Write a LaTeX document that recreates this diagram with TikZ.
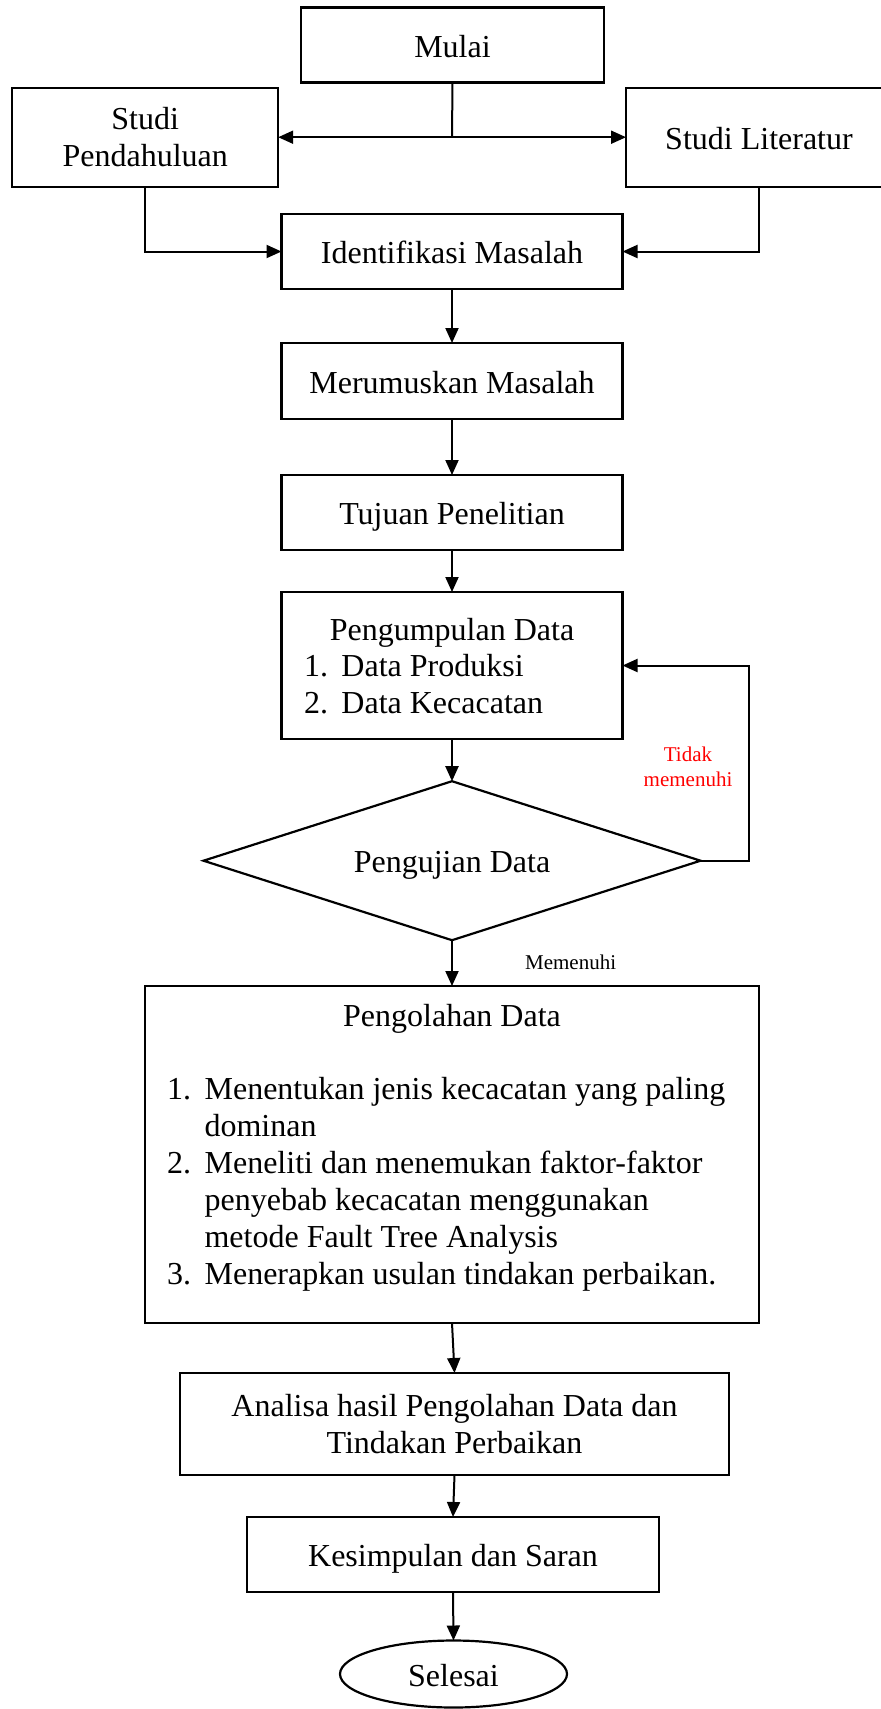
\documentclass[tikz,border=0pt]{standalone}
\usepackage{fontspec}
\setmainfont{Liberation Serif}
\usetikzlibrary{arrows.meta,shapes.geometric}
\begin{document}
\begin{tikzpicture}[x=1pt,y=1pt,
  font=\fontsize{32}{37}\selectfont,
  box/.style={draw, line width=2.2pt, rectangle, inner sep=0pt, outer sep=0pt, align=center},
  oneline/.style={text height=30pt, text depth=6pt},
  txt/.style={inner sep=0pt, outer sep=0pt},
  link/.style={line width=2pt, -{Triangle[length=15pt,width=13pt]}},
  plain/.style={line width=2pt},
  note/.style={inner sep=0pt, font=\fontsize{21}{25}\selectfont, align=center}
]
\useasboundingbox (0,0) rectangle (881,-1709);

% upper part
\node[box,oneline,minimum width=303pt,minimum height=75pt] (mulai) at (452.5,-45) {Mulai};
\node[box,minimum width=266pt,minimum height=99pt] (pend) at (145.2,-137.2) {Studi\\Pendahuluan};
\node[box,oneline,minimum width=266pt,minimum height=99pt] (lit) at (759,-137.2) {Studi Literatur};
\node[box,oneline,minimum width=341pt,minimum height=75pt] (ident) at (452,-251.5) {Identifikasi Masalah};
\node[box,oneline,minimum width=341pt,minimum height=76pt] (rumus) at (452,-381) {Merumuskan Masalah};
\node[box,oneline,minimum width=341pt,minimum height=75pt] (tujuan) at (452,-512.5) {Tujuan Penelitian};

% data collection
\node[box,minimum width=341pt,minimum height=147pt] (kumpul) at (452,-665.5) {};
\node[txt,anchor=base] (kumpulT) at (452,-640) {Pengumpulan Data};
\node[txt,anchor=base west] (kumpulL) at (304,-676)
  {\begin{tabular}[t]{@{}l@{\hspace{13.5pt}}l@{}}1. & Data Produksi\\2. & Data Kecacatan\end{tabular}};

% decision
\node[draw, diamond, aspect=3.13, line width=2.2pt, inner sep=0pt, outer sep=0pt,
      minimum width=497pt, minimum height=159pt, oneline] (uji) at (452,-860.7) {Pengujian Data};

% data processing
\node[box,minimum width=614pt,minimum height=337pt] (olah) at (452,-1154.5) {};
\node[txt,anchor=base] (olahT) at (452,-1026.7) {Pengolahan Data};
\node[txt,anchor=base west] (olahL) at (167,-1099)
  {\begin{tabular}[t]{@{}l@{\hspace{13.6pt}}l@{}}
   1. & Menentukan jenis kecacatan yang paling\\
      & dominan\\
   2. & Meneliti dan menemukan faktor-faktor\\
      & penyebab kecacatan menggunakan\\
      & metode Fault Tree Analysis\\
   3. & Menerapkan usulan tindakan perbaikan.
   \end{tabular}};

% lower part
\node[box,minimum width=549pt,minimum height=102pt] (analisa) at (454.5,-1424) {Analisa hasil Pengolahan Data dan\\Tindakan Perbaikan};
\node[box,oneline,minimum width=412pt,minimum height=75pt] (simpul) at (453,-1554.5) {Kesimpulan dan Saran};
\node[draw, ellipse, line width=2.2pt, inner sep=0pt, outer sep=0pt, oneline,
      minimum width=227pt, minimum height=67pt] (selesai) at (453.5,-1674) {Selesai};

% labels
\node[note,text=red] (tidak) at (688,-767) {Tidak\\memenuhi};
\node[note] (memenuhi) at (570.6,-962) {Memenuhi};

% connectors
\coordinate (split) at (452,-137.2);
\draw[plain] (mulai.south) -- (split);
\draw[link] (split) -- (pend.east);
\draw[link] (split) -- (lit.west);
\draw[link] (pend.south) |- (ident.west);
\draw[link] (lit.south) |- (ident.east);
\draw[link] (ident.south) -- (rumus.north);
\draw[link] (rumus.south) -- (tujuan.north);
\draw[link] (tujuan.south) -- (kumpul.north);
\draw[link] (kumpul.south) -- (uji.north);
\coordinate (back) at (749,-860.7);
\draw[link] (uji.east) -- (back) |- (kumpul.east);
\draw[link] (uji.south) -- (olah.north);
\draw[link] (olah.south) -- (analisa.north);
\draw[link] (analisa.south) -- (simpul.north);
\draw[link] (simpul.south) -- (selesai.north);
\end{tikzpicture}
\end{document}
